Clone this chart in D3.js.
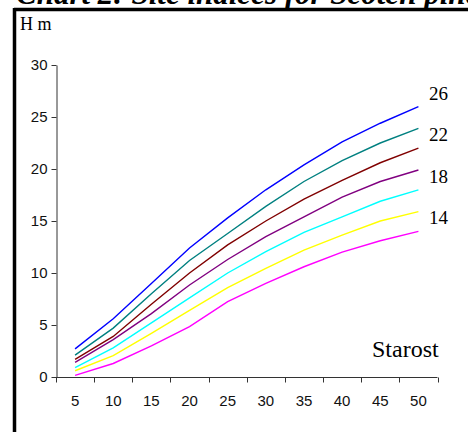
<!DOCTYPE html>
<html>
<head>
<meta charset="utf-8">
<script src="https://cdn.jsdelivr.net/npm/d3@7"></script>
<style>
  html, body { margin: 0; padding: 0; background: #fff; }
  svg { display: block; }
</style>
</head>
<body>
<svg id="chart"></svg>
<script>
const width  = 468
const height = 432

// ages on the x axis
const ages = ["5", "10", "15", "20", "25", "30", "35", "40", "45", "50"]
const yTicks = [0, 5, 10, 15, 20, 25, 30]

// height (m) per site index curve
const si26 = [2.7, 5.6, 9.0, 12.4, 15.3, 18.0, 20.4, 22.6, 24.4, 26.0]
const si24 = [2.1, 4.7, 8.0, 11.2, 13.8, 16.4, 18.8, 20.8, 22.5, 23.9]
const si22 = [1.7, 3.9, 7.0, 10.0, 12.7, 15.0, 17.1, 18.9, 20.6, 22.0]
const si20 = [1.4, 3.6, 6.1, 8.85, 11.3, 13.5, 15.4, 17.3, 18.8, 19.9]
const si18 = [0.9, 2.8, 5.2, 7.6, 10.0, 12.05, 13.9, 15.4, 16.9, 18.0]
const si16 = [0.6, 2.05, 4.2, 6.4, 8.6, 10.45, 12.2, 13.65, 15.0, 15.9]
const si14 = [0.15, 1.3, 3.0, 4.85, 7.25, 9.0, 10.6, 12.0, 13.1, 14.0]

const seriesColors = ["#0000ff", "#008080", "#800000", "#800080", "#00ffff", "#ffff00", "#ff00ff"]
const curveLabels = ["26", "22", "18", "14"]
const labelRows   = [26, 22, 18, 14]   // which curve each label sits next to

const series = [si26, si24, si22, si20, si18, si16, si14]

const svg = d3.select("#chart")
    .attr("width", width)
    .attr("height", height)

// title of the page, cut off at the top like in the scan
svg.append("text")
    .attr("x", 16)
    .attr("y", 4)
    .style("font-family", "'Liberation Serif', 'Times New Roman', serif")
    .style("font-size", "31px")
    .style("font-style", "italic")
    .style("font-weight", "bold")
    .text("Chart 2: Site indices for Scotch pine")

// frame
svg.append("line")
    .attr("x1", 14).attr("x2", width)
    .attr("y1", 9.5).attr("y2", 9.5)
    .style("stroke", "#000").style("stroke-width", 3.5)
svg.append("line")
    .attr("x1", 14.5).attr("x2", 14.5)
    .attr("y1", 8).attr("y2", height)
    .style("stroke", "#000").style("stroke-width", 3.5)

const x = d3.scaleBand()
    .domain(ages)
    .range([56, 437.5])
    .padding(0)

const y = d3.scaleLinear()
    .domain([0, 30])
    .range([377, 65])

const sans = "'Liberation Sans', Arial, sans-serif"
const serif = "'Liberation Serif', 'Times New Roman', serif"

// y axis
const yAxis = svg.append("g")
    .attr("transform", "translate(56.5,0)")
    .call(d3.axisLeft(y).tickValues(yTicks).tickSize(5).tickSizeOuter(0).tickPadding(4))
yAxis.selectAll("text")
    .style("font-family", sans).style("font-size", "15px").style("fill", "#111")
yAxis.selectAll("line, path").style("stroke", "#333")

// x axis: labels in the middle of each band, ticks on the band edges
const xAxis = svg.append("g")
    .attr("transform", "translate(0,377.5)")
    .call(d3.axisBottom(x).tickSize(0).tickPadding(18))
xAxis.select(".domain").remove()
xAxis.selectAll("text")
    .style("font-family", sans).style("font-size", "15px").style("fill", "#111")

svg.append("line")
    .attr("x1", x.range()[0]).attr("x2", x.range()[1])
    .attr("y1", 377.5).attr("y2", 377.5)
    .style("stroke", "#333")

const edges = ages.map(d => x(d)).concat([x.range()[1]])
svg.append("g")
    .selectAll("line")
    .data(edges)
    .enter().append("line")
    .attr("x1", d => Math.round(d) + 0.5)
    .attr("x2", d => Math.round(d) + 0.5)
    .attr("y1", 377.5)
    .attr("y2", 382.5)
    .style("stroke", "#333")

// curves
const line = d3.line()
    .x((d, i) => x(ages[i]) + x.bandwidth() / 2)
    .y(d => y(d))

svg.append("g")
    .selectAll("path")
    .data(series)
    .enter().append("path")
    .attr("d", d => line(d))
    .style("fill", "none")
    .style("stroke", (d, i) => seriesColors[i])
    .style("stroke-width", 1.4)

// site index labels at the right end
svg.append("g")
    .selectAll("text")
    .data(curveLabels)
    .enter().append("text")
    .attr("x", 429)
    .attr("y", (d, i) => y(labelRows[i]) - 7)
    .style("font-family", serif)
    .style("font-size", "19px")
    .text(d => d)

// axis titles
svg.append("text")
    .attr("x", 20)
    .attr("y", 30)
    .style("font-family", serif)
    .style("font-size", "18px")
    .text("H m")

svg.append("text")
    .attr("x", 372)
    .attr("y", 357)
    .style("font-family", serif)
    .style("font-size", "24px")
    .text("Starost")
</script>
</body>
</html>
